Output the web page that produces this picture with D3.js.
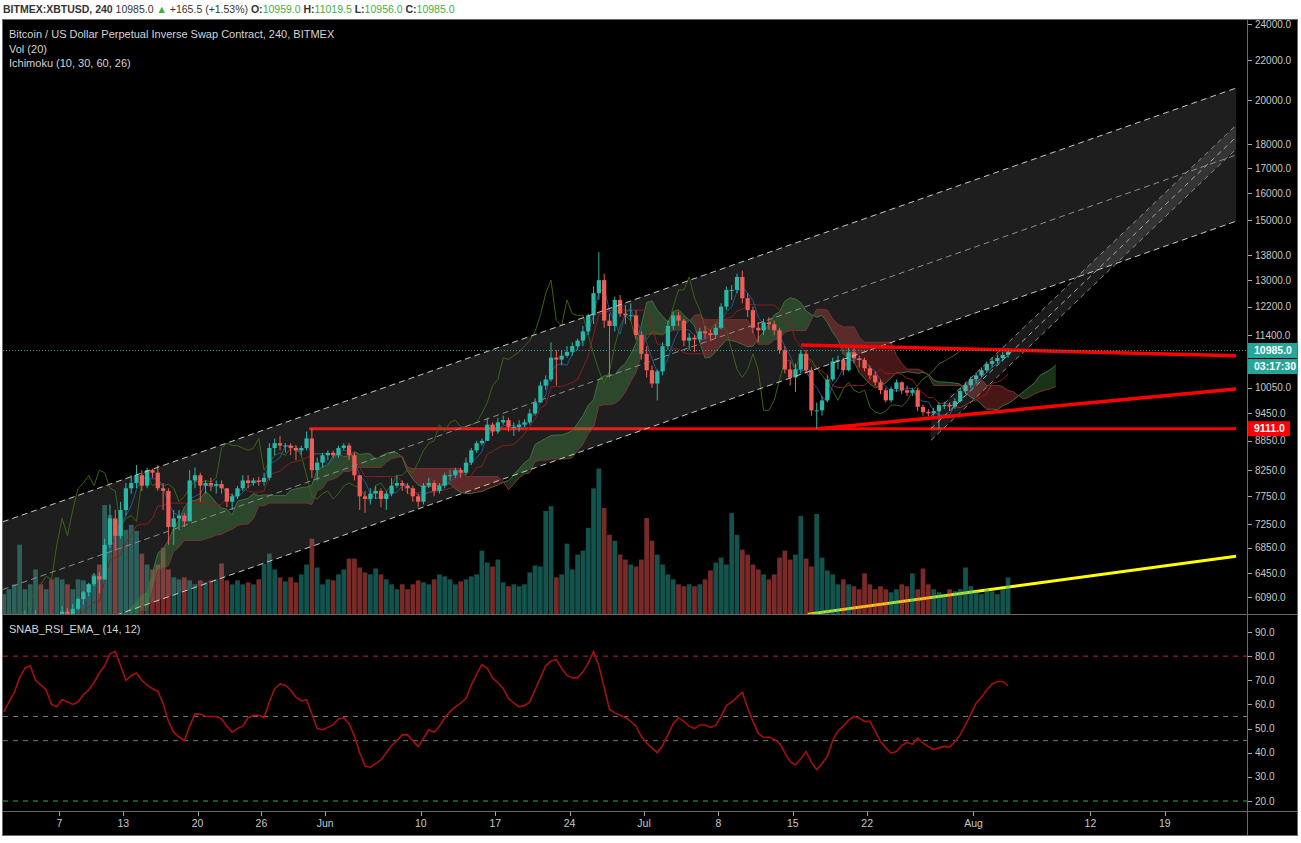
<!DOCTYPE html>
<html>
<head>
<meta charset="utf-8">
<script src="https://cdn.jsdelivr.net/npm/d3@7"></script>
<style>
  body { margin: 0; background: #fff; }
  svg { display: block; }
</style>
</head>
<body>
<svg id="chart" width="1301" height="843"></svg>
<script>
// 12h candles, first one starts May 1 12:00 UTC
const candleStart = Date.UTC(2019, 4, 1, 12);
const candleStep = 12 * 3600 * 1000;
const firstOpen = 5350;

const closes = [
  5400,
  5450,5500, 5650,5760, 5800,5820, 5740,5770, 5700,5720, 5880,5820, 5920,6060, 6160,6280, 6400,6350,
  6900,7350, 7050,7500, 7900,8000, 8150,7950, 8250,8200, 7900,7850, 7200,7350, 7400,7300, 8050,8150, 7950,8000,
  7950,7980, 7900,7650, 7750,7900, 8050,8000, 8050,8020, 8100,8700, 8800,8750, 8750,8700, 8650,8700, 8900,8250, 8400,8550,
  8600,8550, 8700,8750, 8550,8150, 7750,7700, 7800,7850, 7700,7800, 7950,8000, 7950,7900, 7750,7650, 7950,8000,
  7850,7950, 8150,8150, 8250,8200, 8400,8650, 8800,8850, 9200,9050, 9250,9300, 9150,9150, 9200,9250, 9450,9700,
  10100,10250, 10800,10750, 10850,10950, 11100,11250, 11500,11950, 12600,13000, 11800,11650, 12400,12000, 11950,11950, 11400,10900,
  10480,10150, 10450,11100, 11650,11950, 11800,11250, 11330,11280, 11500,11450, 11400,11600, 12200,12700, 12700,13100, 12450,12100,
  11600,11530, 11750,11700, 11530,11000, 10500,10300, 10500,10900, 10480,9520, 9520,9750, 10250,10700, 10740,10480, 10940,10780,
  10740,10530, 10350,10180, 9990,9750, 10020,10180, 9990,9930, 9990,9600, 9480,9450, 9500,9640, 9640,9610, 9730,9970, 10110,10260,
  10350,10480, 10640,10710, 10790,10870,
  10985
];
const highs = [
  5420,
  5480,5540, 5700,5900, 5850,5900, 5840,5810, 5790,5760, 5960,5930, 5990,6080, 6180,6300, 6450,6460,
  7000,7600, 7500,7650, 8000,8150, 8350,8250, 8300,8280, 8350,8000, 7900,7500, 7500,7450, 8250,8300, 8200,8050,
  8100,8050, 8050,7900, 7800,7950, 8150,8150, 8100,8120, 8200,8800, 8900,8950, 8800,8800, 8750,8750, 9050,9111, 8500,8600,
  8650,8650, 8750,8800, 8800,8600, 8150,7850, 7900,7950, 7900,7850, 8100,8150, 8050,8000, 7950,7800, 8000,8100,
  8050,8000, 8200,8250, 8300,8300, 8500,8700, 8850,8900, 9350,9250, 9350,9400, 9350,9250, 9300,9320, 9550,9800,
  10200,10350, 11200,11000, 11000,11100, 11200,11300, 11650,12000, 12800,13900, 13200,12000, 12500,12550, 12250,12300, 12100,11500,
  11100,10600, 10500,11200, 11800,12050, 12050,11850, 11450,11400, 11600,11650, 11550,11700, 12300,12800, 12850,13200, 13300,12600,
  12200,11750, 11850,11900, 11800,11600, 11100,10700, 10650,11000, 11000,10550, 9700,9850, 10350,10800, 10850,10800, 11100,11050,
  10850,10800, 10600,10450, 10250,10050, 10080,10250, 10200,10100, 10050,10050, 9650,9550, 9580,9700, 9720,9700, 9800,10050, 10180,10320,
  10420,10550, 10700,10800, 10880,10950,
  11050
];
const lows = [
  5340,
  5380,5430, 5480,5620, 5580,5700, 5700,5680, 5590,5650, 5700,5780, 5800,5900, 5980,6100, 6250,6150,
  6350,6850, 6800,7000, 7400,7800, 7900,7850, 7900,8100, 7850,7500, 6900,6900, 7150,7200, 7300,7900, 7650,7800,
  7850,7800, 7800,7550, 7500,7700, 7850,7900, 7950,7950, 7950,8050, 8550,8650, 8600,8550, 8450,8550, 8650,8100, 8050,8300,
  8450,8500, 8500,8650, 8450,8050, 7500,7450, 7600,7700, 7550,7500, 7750,7900, 7850,7800, 7650,7550, 7600,7900,
  7750,7800, 7900,8050, 8100,8100, 8150,8350, 8600,8750, 8850,8950, 9000,9200, 9050,8950, 9050,9150, 9200,9400,
  9700,10000, 10200,10100, 10600,10800, 10850,11000, 11100,11400, 11700,12400, 11600,10300, 11500,11900, 11700,11800, 11300,10750,
  10300,10050, 9750,10350, 11000,11550, 11650,11100, 11000,10950, 11200,11300, 11250,11300, 11550,12100, 12400,12600, 12300,11900,
  11450,11200, 11400,11550, 11400,10900, 10400,10100, 9950,10400, 10400,9400, 9111,9400, 9700,10200, 10500,10350, 10450,10650,
  10550,10450, 10250,10100, 9900,9700, 9700,9950, 9900,9850, 9850,9500, 9400,9380, 9400,9111, 9550,9500, 9550,9700, 9900,10050,
  10150,10300, 10420,10550, 10650,10700,
  10800
];
const volumes = [
  200,250,300,700,250,300,450,300,250,350,
  370,350,300,250,350,340,300,400,500,1100,
  1000,950,900,850,900,840,610,500,450,500,
  670,450,370,350,370,340,300,340,320,340,
  350,510,340,300,340,300,320,300,350,510,
  610,450,370,330,370,320,400,500,760,470,
  300,350,340,400,450,560,560,470,420,400,
  460,400,350,300,250,300,250,300,340,320,
  300,350,400,380,350,300,330,350,380,400,
  640,520,480,550,320,280,300,280,300,420,
  490,480,1040,1090,370,400,710,450,600,640,
  870,1270,1470,1070,800,740,600,550,500,480,
  550,970,740,600,500,400,350,300,280,300,
  280,300,350,440,520,570,500,1020,800,650,
  600,500,450,400,350,400,570,640,550,600,
  990,560,480,1010,570,440,400,300,350,300,
  280,250,410,300,250,280,250,220,250,300,
  280,410,250,460,300,250,220,200,250,230,
  250,470,280,230,200,250,230,200,250,370
];
const rsiValues = [
  57,61,65,71,75,76,70,68,66,60,
  59,62,61,60,61,64,66,69,73,76,
  81,82,76,70,72,73,70,68,66.5,65.5,
  60.5,53,48.5,46.5,45,51,56,56,55,55,
  55,54,51,48.5,50,51,54.5,55.5,55.5,54.5,
  61,66.5,68.5,68,66,63,61.5,62,56,50,
  49.5,50.5,51.5,54,54.5,52,47,40,34.5,34,
  35.5,37,40,43,45,47.4,47.4,45,42.5,46,
  49.5,48.5,51,54.5,57,59,60.5,62.5,68,72.5,
  76.5,75,71,69,66.5,62.5,60.5,59,59.5,61,
  66,71,76,78,78.5,75,72,71,71,73.5,
  77,82,76,67,58,56.5,55.5,54.5,53,51,
  46.7,44,42,40,43,47.5,52,54.5,53,51,
  50,51.5,51.5,50.5,51.3,55,59.5,61,63,65,
  58.5,53,48,46.3,46.5,45.5,44,40,36.3,35,
  37.5,40.5,36,33,35.5,38.5,45,49,51,53.5,
  55,54.3,53,53,49,44.6,42,39.8,40.5,43,
  44.3,43.5,46,44,42.5,41.3,42,42.6,42.3,44.5,
  47.5,51.5,56,60.5,63,66,68.5,69.5,69.5,67.7
];

const priceTicks = [24000, 22000, 20000, 18000, 17000, 16000, 15000, 13800, 13000, 12200, 11400,
                    10050, 9450, 8850, 8250, 7750, 7250, 6850, 6450, 6090];
const rsiTicks = [90, 80, 70, 60, 50, 40, 30, 20];
const rsiLevels = [80, 55, 45, 20];
const timeTicks = [
  ["2019-05-07", "7"], ["2019-05-13", "13"], ["2019-05-20", "20"], ["2019-05-26", "26"],
  ["2019-06-01", "Jun"], ["2019-06-10", "10"], ["2019-06-17", "17"], ["2019-06-24", "24"],
  ["2019-07-01", "Jul"], ["2019-07-08", "8"], ["2019-07-15", "15"], ["2019-07-22", "22"],
  ["2019-08-01", "Aug"], ["2019-08-12", "12"], ["2019-08-19", "19"]
];

// drawings: [time, price] anchors
const chartEnd = "2019-08-25T17:00Z";
const channelUpper = [["2019-05-01T16:00Z", 7290], [chartEnd, 20590]];
const channelMiddle = [["2019-05-01T16:00Z", 6200], [chartEnd, 17540]];
const channelLower = [["2019-05-01T16:00Z", 5300], [chartEnd, 14970]];
const supportLine = [["2019-05-30T12:00Z", 9111], [chartEnd, 9111]];
const triangleTop = [["2019-07-15T18:30Z", 11130], [chartEnd, 10850]];
const triangleBottom = [["2019-07-17T08:40Z", 9111], [chartEnd, 10020]];
const yellowTrend = [["2019-07-16T09:30Z", 5845], [chartEnd, 6713]];
const steepTop = [["2019-07-28T00:00Z", 9390], [chartEnd, 18840]];
const steepMiddle = [["2019-07-28T00:00Z", 9111], [chartEnd, 18310]];
const steepBottom = [["2019-07-28T00:00Z", 8860], [chartEnd, 17790]];

const lastPrice = 10985;
const countdown = "03:17:30";
const headerParts = [
  ["BITMEX:XBTUSD, 240", "b"], [" 10985.0 ", "n"], ["\u25B2", "g"], [" +165.5 (+1.53%) ", "n"],
  ["O:", "b"], ["10959.0", "g"], [" H:", "b"], ["11019.5", "g"],
  [" L:", "b"], ["10956.0", "g"], [" C:", "b"], ["10985.0", "g"]
];

// Ichimoku (10, 30, 60, 26) on 4h bars, scaled to 12h bars
const ichiConv = 3, ichiBase = 10, ichiSpanB = 20, ichiShift = 9;

const upColor = "#2ab7a5";
const downColor = "#f05d57";

function barTime(i) {
  return new Date(candleStart + i * candleStep + candleStep / 2);
}

const candles = closes.map((c, i) => ({
  t: barTime(i),
  o: i === 0 ? firstOpen : closes[i - 1],
  h: highs[i],
  l: lows[i],
  c: c,
  v: volumes[i],
  rsi: rsiValues[i]
}));

function donchian(n, i) {
  const from = Math.max(0, i - n + 1);
  return (d3.max(highs.slice(from, i + 1)) + d3.min(lows.slice(from, i + 1))) / 2;
}

const ichi = candles.map((d, i) => ({ t: d.t, conv: donchian(ichiConv, i), base: donchian(ichiBase, i) }));
const lead = candles.map((d, i) => ({
  t: barTime(i + ichiShift),
  a: (ichi[i].conv + ichi[i].base) / 2,
  b: donchian(ichiSpanB, i)
}));
const lagging = candles.slice(ichiShift).map((d, i) => ({ t: candles[i].t, v: d.c }));

function drawChart() {
  const svg = d3.select("#chart");
  const plotLeft = 3, plotRight = 1247;
  const mainTop = 20, mainBottom = 614, rsiBottom = 811, frameBottom = 835;

  const x = d3.scaleUtc()
    .domain([new Date(Date.UTC(2019, 4, 1)), new Date(Date.UTC(2019, 7, 26))])
    .range([-4.3, 1239.2]);
  const y = d3.scaleLog().domain([24000, 6090]).range([24, 597]);
  const yRsi = d3.scaleLinear().domain([20, 90]).range([801, 632]);
  const yVol = d3.scaleLinear().domain([0, 6000]).range([mainBottom, mainTop]);
  const barW = x(new Date(candleStep)) - x(new Date(0));

  svg.append("rect").attr("width", 1301).attr("height", 843).attr("fill", "#fff");
  svg.append("rect")
    .attr("x", 2.5).attr("y", mainTop - 0.5)
    .attr("width", 1295).attr("height", frameBottom - mainTop + 1)
    .attr("fill", "#000").attr("stroke", "#6b6b6b");

  const defs = svg.append("defs");
  defs.append("clipPath").attr("id", "clipMain").append("rect")
    .attr("x", plotLeft).attr("y", mainTop).attr("width", plotRight - plotLeft).attr("height", mainBottom - mainTop);
  defs.append("clipPath").attr("id", "clipRsi").append("rect")
    .attr("x", plotLeft).attr("y", mainBottom + 1).attr("width", plotRight - plotLeft).attr("height", rsiBottom - mainBottom - 1);

  const main = svg.append("g").attr("clip-path", "url(#clipMain)");
  const pt = d => [x(new Date(d[0])), y(d[1])];

  function drawSegment(g, anchors, color, width, dash) {
    const [p0, p1] = anchors.map(pt);
    const line = g.append("line")
      .attr("x1", p0[0]).attr("y1", p0[1]).attr("x2", p1[0]).attr("y2", p1[1])
      .attr("stroke", color).attr("stroke-width", width);
    if (dash) line.attr("stroke-dasharray", dash);
    return line;
  }

  // yellow trend under the volume
  drawSegment(main, yellowTrend, "#ffff00", 3);

  // volume
  main.selectAll(".vol")
    .data(candles)
    .join("rect")
    .attr("class", "vol")
    .attr("x", d => x(d.t) - barW / 2 + 0.3)
    .attr("width", barW - 0.6)
    .attr("y", d => yVol(d.v))
    .attr("height", d => mainBottom - yVol(d.v))
    .attr("fill", d => d.c >= d.o ? "rgba(38,166,154,0.5)" : "rgba(239,83,80,0.5)");

  drawSegment(main, supportLine, "#ff0000", 3);

  // parallel channel background
  const cu = channelUpper.map(pt), cl = channelLower.map(pt);
  main.append("path")
    .attr("d", d3.line()([cu[0], cu[1], cl[1], cl[0]]) + "Z")
    .attr("fill", "rgba(150,150,150,0.2)");

  // ichimoku cloud, split in runs of the same sign
  const runs = [];
  let cur = null;
  lead.forEach((d, k) => {
    const up = d.a >= d.b;
    if (!cur || cur.up !== up) {
      if (cur) cur.pts.push(d);
      cur = { up: up, pts: [] };
      runs.push(cur);
    }
    cur.pts.push(d);
  });
  const cloudArea = d3.area().x(d => x(d.t)).y0(d => y(d.a)).y1(d => y(d.b));
  main.selectAll(".cloud")
    .data(runs)
    .join("path")
    .attr("class", "cloud")
    .attr("d", r => cloudArea(r.pts))
    .attr("fill", r => r.up ? "rgba(76,160,76,0.32)" : "rgba(220,70,70,0.32)");

  const ichiLine = (g, data, acc, color) => g.append("path")
    .datum(data)
    .attr("fill", "none")
    .attr("stroke", color)
    .attr("stroke-width", 1)
    .attr("d", d3.line().x(d => x(d.t)).y(acc));

  ichiLine(main, lead, d => y(d.a), "#3f6f3f");
  ichiLine(main, lead, d => y(d.b), "#7a3232");
  ichiLine(main, lagging, d => y(d.v), "#3a6414");
  ichiLine(main, ichi, d => y(d.base), "#8a1d1d");
  ichiLine(main, ichi, d => y(d.conv), "#1f5694");

  // candles
  const candle = main.selectAll(".candle")
    .data(candles)
    .join("g")
    .attr("class", "candle");
  candle.append("line")
    .attr("x1", d => x(d.t)).attr("x2", d => x(d.t))
    .attr("y1", d => y(d.h)).attr("y2", d => y(d.l))
    .attr("stroke", d => d.c >= d.o ? upColor : downColor);
  candle.append("rect")
    .attr("x", d => x(d.t) - barW * 0.4)
    .attr("width", barW * 0.8)
    .attr("y", d => y(Math.max(d.o, d.c)))
    .attr("height", d => Math.max(1, Math.abs(y(d.o) - y(d.c))))
    .attr("fill", d => d.c >= d.o ? upColor : downColor);

  // steep channel
  const st = steepTop.map(pt), sb = steepBottom.map(pt);
  main.append("path")
    .attr("d", d3.line()([st[0], st[1], sb[1], sb[0]]) + "Z")
    .attr("fill", "rgba(170,170,170,0.16)");
  drawSegment(main, steepTop, "#8a8a8a", 1, "5,4");
  drawSegment(main, steepMiddle, "#a8a8a8", 1, "5,4");
  drawSegment(main, steepBottom, "#8a8a8a", 1, "5,4");

  // channel lines
  drawSegment(main, channelUpper, "#c8c8c8", 1, "6,4");
  drawSegment(main, channelMiddle, "#8c8c8c", 1, "6,4");
  drawSegment(main, channelLower, "#c8c8c8", 1, "6,4");

  // triangle
  drawSegment(main, triangleTop, "#ff0000", 3.5);
  drawSegment(main, triangleBottom, "#ff0000", 3.5);

  // last price line
  main.append("line")
    .attr("x1", plotLeft).attr("x2", plotRight)
    .attr("y1", y(lastPrice)).attr("y2", y(lastPrice))
    .attr("stroke", "#26a69a").attr("stroke-dasharray", "1,2");

  // RSI pane
  const rsi = svg.append("g").attr("clip-path", "url(#clipRsi)");
  const levelColor = ["#d32020", "#777", "#777", "#1fbf1f"];
  rsi.selectAll(".lvl")
    .data(rsiLevels)
    .join("line")
    .attr("class", "lvl")
    .attr("x1", plotLeft).attr("x2", plotRight)
    .attr("y1", d => yRsi(d)).attr("y2", d => yRsi(d))
    .attr("stroke", (d, i) => levelColor[i])
    .attr("stroke-dasharray", "5,5");
  rsi.append("path")
    .datum(candles)
    .attr("fill", "none")
    .attr("stroke", "#a50f0f")
    .attr("stroke-width", 1.6)
    .attr("d", d3.line().x(d => x(d.t)).y(d => yRsi(d.rsi)));

  // pane separators and axis border
  const grid = svg.append("g").attr("stroke", "#6b6b6b");
  grid.append("line").attr("x1", 2.5).attr("x2", 1297.5).attr("y1", mainBottom + 0.5).attr("y2", mainBottom + 0.5);
  grid.append("line").attr("x1", 2.5).attr("x2", 1297.5).attr("y1", rsiBottom + 0.5).attr("y2", rsiBottom + 0.5);
  grid.append("line").attr("x1", plotRight + 0.5).attr("x2", plotRight + 0.5).attr("y1", mainTop).attr("y2", frameBottom);

  const axisFont = "'Liberation Sans', Arial, sans-serif";

  // price axis
  const pAxis = svg.append("g");
  pAxis.selectAll("line")
    .data(priceTicks)
    .join("line")
    .attr("x1", plotRight + 1).attr("x2", plotRight + 5)
    .attr("y1", d => Math.round(y(d)) + 0.5).attr("y2", d => Math.round(y(d)) + 0.5)
    .attr("stroke", "#aaa");
  pAxis.selectAll("text")
    .data(priceTicks)
    .join("text")
    .attr("x", plotRight + 8)
    .attr("y", d => y(d) + 3.5)
    .attr("fill", "#c8c8c8")
    .attr("font-family", axisFont)
    .attr("font-size", 10)
    .text(d => d.toFixed(1));

  // RSI axis
  const rAxis = svg.append("g");
  rAxis.selectAll("line")
    .data(rsiTicks)
    .join("line")
    .attr("x1", plotRight + 1).attr("x2", plotRight + 5)
    .attr("y1", d => Math.round(yRsi(d)) + 0.5).attr("y2", d => Math.round(yRsi(d)) + 0.5)
    .attr("stroke", "#aaa");
  rAxis.selectAll("text")
    .data(rsiTicks)
    .join("text")
    .attr("x", plotRight + 8)
    .attr("y", d => yRsi(d) + 3.5)
    .attr("fill", "#c8c8c8")
    .attr("font-family", axisFont)
    .attr("font-size", 10)
    .text(d => d.toFixed(1));

  // price labels on the axis
  function axisLabel(yc, w, h, bg, txt) {
    svg.append("rect").attr("x", plotRight + 1).attr("y", yc - h / 2).attr("width", w).attr("height", h).attr("fill", bg);
    svg.append("text")
      .attr("x", plotRight + 7).attr("y", yc + 3.8)
      .attr("fill", "#fff").attr("font-family", axisFont).attr("font-size", 10.5).attr("font-weight", "bold")
      .text(txt);
  }
  axisLabel(y(lastPrice), 49, 15, "#26a69a", lastPrice.toFixed(1));
  axisLabel(y(lastPrice) + 16, 49, 15, "#26a69a", countdown);
  axisLabel(y(supportLine[0][1]), 42, 15, "#ff0000", supportLine[0][1].toFixed(1));

  // time axis
  const tAxis = svg.append("g");
  tAxis.selectAll("line")
    .data(timeTicks)
    .join("line")
    .attr("x1", d => Math.round(x(new Date(d[0]))) + 0.5).attr("x2", d => Math.round(x(new Date(d[0]))) + 0.5)
    .attr("y1", rsiBottom + 1).attr("y2", rsiBottom + 5)
    .attr("stroke", "#aaa");
  tAxis.selectAll("text")
    .data(timeTicks)
    .join("text")
    .attr("x", d => x(new Date(d[0])))
    .attr("y", 827)
    .attr("text-anchor", "middle")
    .attr("fill", "#c8c8c8")
    .attr("font-family", axisFont)
    .attr("font-size", 10.5)
    .text(d => d[1]);

  // legends
  const legend = svg.append("g")
    .attr("fill", "#d4d4d4")
    .attr("font-family", axisFont)
    .attr("font-size", 11);
  legend.append("text").attr("x", 9).attr("y", 38).text("Bitcoin / US Dollar Perpetual Inverse Swap Contract, 240, BITMEX");
  legend.append("text").attr("x", 9).attr("y", 53).text("Vol (20)");
  legend.append("text").attr("x", 9).attr("y", 67).text("Ichimoku (10, 30, 60, 26)");
  legend.append("text").attr("x", 9).attr("y", 633).text("SNAB_RSI_EMA_ (14, 12)");

  // header line above the chart
  const header = svg.append("text")
    .attr("x", 3).attr("y", 13)
    .attr("font-family", axisFont)
    .attr("font-size", 10.5)
    .attr("xml:space", "preserve");
  header.selectAll("tspan")
    .data(headerParts)
    .join("tspan")
    .attr("font-weight", d => d[1] === "b" ? "bold" : "normal")
    .attr("fill", d => d[1] === "g" ? "#3fae3f" : "#333")
    .text(d => d[0]);
}

drawChart();
</script>
</body>
</html>
